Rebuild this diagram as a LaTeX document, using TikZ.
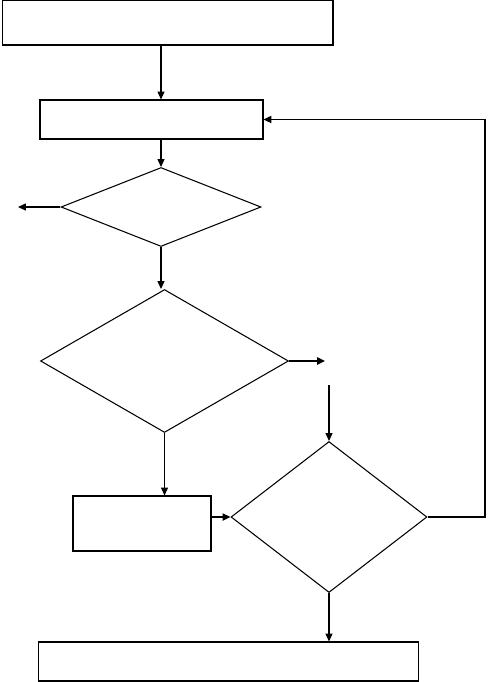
\documentclass[tikz,border=0pt]{standalone}
\usetikzlibrary{arrows.meta,shapes.geometric}

\begin{document}
\begin{tikzpicture}[x=0.02cm, y=-0.02cm, >={Triangle[length=4.5pt,width=4pt]},
    every path/.style={line width=0.6pt},
    box/.style={draw, rectangle, inner sep=0pt},
    decision/.style={draw, diamond, inner sep=0pt, aspect=1},
    heavy/.style={line width=1.1pt}]

    \useasboundingbox (0,0) rectangle (488,682);

    % ========== NODES ==========
    \node[box, minimum width=6.62cm, minimum height=0.9cm] (start) at (167.5,22.5) {};
    \node[box, minimum width=4.46cm, minimum height=0.78cm] (init) at (151.5,119.5) {};
    \node[decision, minimum width=4.0cm, minimum height=1.58cm] (test1) at (161,207) {};
    \node[decision, minimum width=4.96cm, minimum height=2.86cm] (test2) at (164.5,361) {};
    \node[box, minimum width=2.76cm, minimum height=1.1cm] (update) at (142,523.5) {};
    \node[decision, minimum width=3.92cm, minimum height=3.02cm] (test3) at (329,517) {};
    \node[box, minimum width=7.62cm, minimum height=0.78cm] (finish) at (228.5,661.5) {};

    % Free ends
    \coordinate (exit1) at (18,207);
    \coordinate (exit2) at (325,361);
    \coordinate (entry3) at (329,385);
    \coordinate (loop) at (485,0);

    % ========== CONNECTORS ==========
    \draw[->] (start.south -| test1.north) -- (init.north -| test1.north);
    \draw[->] (init.south -| test1.north) -- (test1.north);
    \draw[->] (test1.west) -- (exit1);
    \draw[->] (test1.south) -- (test1.south |- test2.north);
    \draw[->, heavy] (test2.east) -- (exit2);
    \draw[->] (test2.south) -- (test2.south |- update.north);
    \draw[->, heavy] (update.east |- test3.west) -- (test3.west);
    \draw[->] (entry3) -- (test3.north);
    \draw[->] (test3.south) -- (test3.south |- finish.north);

    % Loop back
    \draw[->, heavy] (test3.east) -- (test3.east -| loop) -- (init.east -| loop) -- (init.east);

\end{tikzpicture}
\end{document}
